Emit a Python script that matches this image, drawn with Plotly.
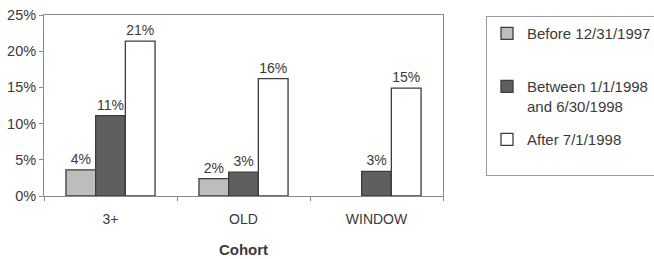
import plotly.graph_objects as go

categories = ["3+", "OLD", "WINDOW"]
series_names = ["Before 12/31/1997<br> ", "Between 1/1/1998<br>and 6/30/1998", "After 7/1/1998<br> "]
before = [0.036, 0.024, None]
between = [0.111, 0.033, 0.034]
after = [0.214, 0.162, 0.149]
colors = ["#bdbdbd", "#5f5f5f", "#ffffff"]
y_ticks = [0, 0.05, 0.10, 0.15, 0.20, 0.25]
y_tick_labels = ["0%", "5%", "10%", "15%", "20%", "25%"]

font_family = "Liberation Sans, Arial, sans-serif"
txt = "#3a3a3a"

fig = go.Figure()
for i, (name, vals) in enumerate(zip(series_names, [before, between, after])):
    fig.add_trace(go.Bar(
        x=categories, y=vals, name=name,
        marker=dict(color=colors[i], line=dict(color="#3c3c3c", width=1.3)),
        text=[None if v is None else f"{round(v*100):.0f}%" for v in vals],
        textposition="outside",
        textfont=dict(size=14, color=txt, family=font_family),
        cliponaxis=False,
        legendgroup=str(i),
    ))

fig.update_layout(
    width=654, height=259,
    margin=dict(l=44, r=211, t=15, b=63, autoexpand=False),
    paper_bgcolor="white", plot_bgcolor="white",
    barmode="group", bargap=0.33, bargroupgap=0,
    font=dict(family=font_family, color=txt, size=14),
    showlegend=True,
    legend=dict(
        x=(486 - 44) / 399, xanchor="left", y=0.994, yanchor="top",
        bordercolor="#9a9a9a", borderwidth=1,
        font=dict(size=15, color=txt, family=font_family),
        tracegroupgap=11, traceorder="grouped", valign="top",
        itemwidth=30,
    ),
    xaxis=dict(
        showline=True, linecolor="#8a8a8a", linewidth=1, mirror=True,
        ticks="outside", tickson="boundaries", ticklen=4, tickcolor="#8a8a8a",
        tickfont=dict(size=14, color=txt), ticklabelstandoff=10,
        title=dict(text="<b>Cohort</b>", font=dict(size=15, color=txt), standoff=18),
    ),
    yaxis=dict(
        range=[0, 0.25], tickvals=y_ticks, ticktext=y_tick_labels,
        showline=True, linecolor="#8a8a8a", linewidth=1, mirror=True,
        ticks="outside", ticklen=4, tickcolor="#8a8a8a",
        showgrid=False, zeroline=False,
        tickfont=dict(size=14.5, color=txt),
    ),
)

fig.write_html("out.html", config={"displayModeBar": False},
               post_script="document.body.style.margin='0px';")
